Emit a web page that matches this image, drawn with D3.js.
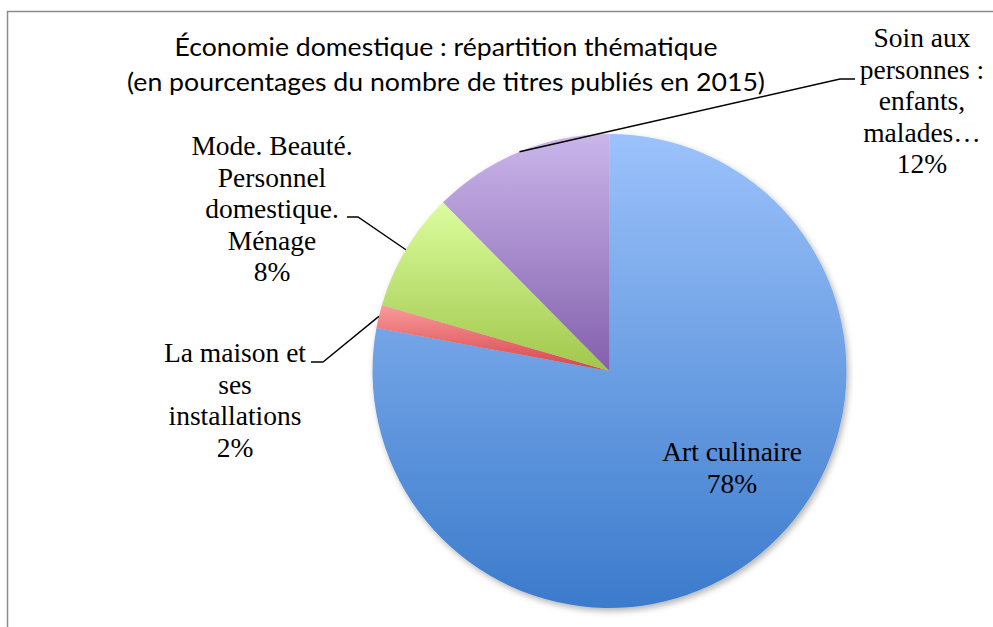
<!DOCTYPE html>
<html>
<head>
<meta charset="utf-8">
<script src="https://cdnjs.cloudflare.com/ajax/libs/d3/7.8.5/d3.min.js"></script>
<style>
  body { margin: 0; background: #fff; }
  svg { display: block; }
  .lbl { font-family: "Liberation Serif", "DejaVu Serif", serif; font-size: 27.5px; fill: #000; }
  .title { font-family: Lato, "Liberation Sans", sans-serif; font-size: 25px; fill: #000; }
</style>
</head>
<body>
<div class="canvas"></div>
<script>
// données (pourcentages)
var categories = ["Art culinaire", "La maison et ses installations", "Mode. Beauté. Personnel domestique. Ménage", "Soin aux personnes : enfants, malades…"];
var values = [77.9, 1.6, 8.1, 12.4];
var labelLines = [
  ["Art culinaire"],
  ["La maison et", "ses", "installations"],
  ["Mode. Beauté.", "Personnel", "domestique.", "Ménage"],
  ["Soin aux", "personnes :", "enfants,", "malades…"]
];
var titleLines = ["Économie domestique : répartition thématique", "(en pourcentages du nombre de titres publiés en 2015)"];

var width = 993, height = 627;
var cx = 609.5, cy = 371, radius = 237;

// dégradés : haut clair -> bas foncé
var gradTop = ["#9cc2fb", "#fa9c9c", "#dcfd9e", "#cab6ea"];
var gradBot = ["#3b7bcb", "#d5444a", "#a0c74c", "#8360ad"];

// position des étiquettes
var labelPos = [
  {x: 732, y: 461, leader: false},
  {x: 235, y: 362, leader: true, hx: [311, 323]},
  {x: 272, y: 155, leader: true, hx: [347, 358], ly: 217},
  {x: 922, y: 47, leader: true, hx: [855, 840], ly: 79}
];
var lineH = 31.5;

var svg = d3.select(".canvas").append("svg")
  .attr("width", width).attr("height", height);

var defs = svg.append("defs");
categories.forEach(function(c, i) {
  var g = defs.append("linearGradient").attr("id", "grad" + i)
    .attr("x1", 0).attr("y1", 0).attr("x2", 0).attr("y2", 1);
  g.append("stop").attr("offset", "0%").attr("stop-color", gradTop[i]);
  g.append("stop").attr("offset", "100%").attr("stop-color", gradBot[i]);
});
var f = defs.append("filter").attr("id", "shadow")
  .attr("x", "-10%").attr("y", "-10%").attr("width", "120%").attr("height", "120%");
f.append("feDropShadow").attr("dx", 2).attr("dy", 3).attr("stdDeviation", 3)
  .attr("flood-color", "#000").attr("flood-opacity", 0.3);

// cadre
svg.append("rect")
  .attr("x", 7.5).attr("y", 11.5)
  .attr("width", 1100).attr("height", 700)
  .attr("fill", "none").attr("stroke", "#8c8c8c").attr("stroke-width", 1.5);

// titre
titleLines.forEach(function(t, i) {
  svg.append("text").attr("class", "title")
    .attr("x", 446).attr("y", 56 + i * 35)
    .attr("text-anchor", "middle")
    .attr("textLength", i == 0 ? 543 : 638)
    .attr("lengthAdjust", "spacingAndGlyphs")
    .text(t);
});

var pie = d3.pie().sort(null).value(function(d) { return d; });
var arcs = pie(values);
var arc = d3.arc().innerRadius(0).outerRadius(radius);
var edge = d3.arc().innerRadius(radius).outerRadius(radius);

var gPie = svg.append("g")
  .attr("transform", "translate(" + cx + "," + cy + ")");

var shadowG = gPie.append("g").attr("filter", "url(#shadow)");
shadowG.selectAll("path")
  .data(arcs)
  .enter()
  .append("path")
    .attr("d", arc)
    .attr("fill", function(d, i) { return "url(#grad" + i + ")"; });

// lignes de repère
arcs.forEach(function(d, i) {
  var p = labelPos[i];
  if (!p.leader) return;
  var e = edge.centroid(d);
  var ly = p.ly !== undefined ? p.ly : p.y;
  var pts = [[p.hx[0], ly], [p.hx[1], ly], [e[0] + cx, e[1] + cy]];
  svg.append("path")
    .attr("d", d3.line()(pts))
    .attr("fill", "none").attr("stroke", "#000").attr("stroke-width", 1.4);
});

// étiquettes
arcs.forEach(function(d, i) {
  var p = labelPos[i];
  var lines = labelLines[i].concat([Math.round(values[i]) + "%"]);
  var t = svg.append("text").attr("class", "lbl").attr("text-anchor", "middle");
  lines.forEach(function(l, j) {
    t.append("tspan").attr("x", p.x).attr("y", p.y + j * lineH).text(l);
  });
});
</script>
</body>
</html>
